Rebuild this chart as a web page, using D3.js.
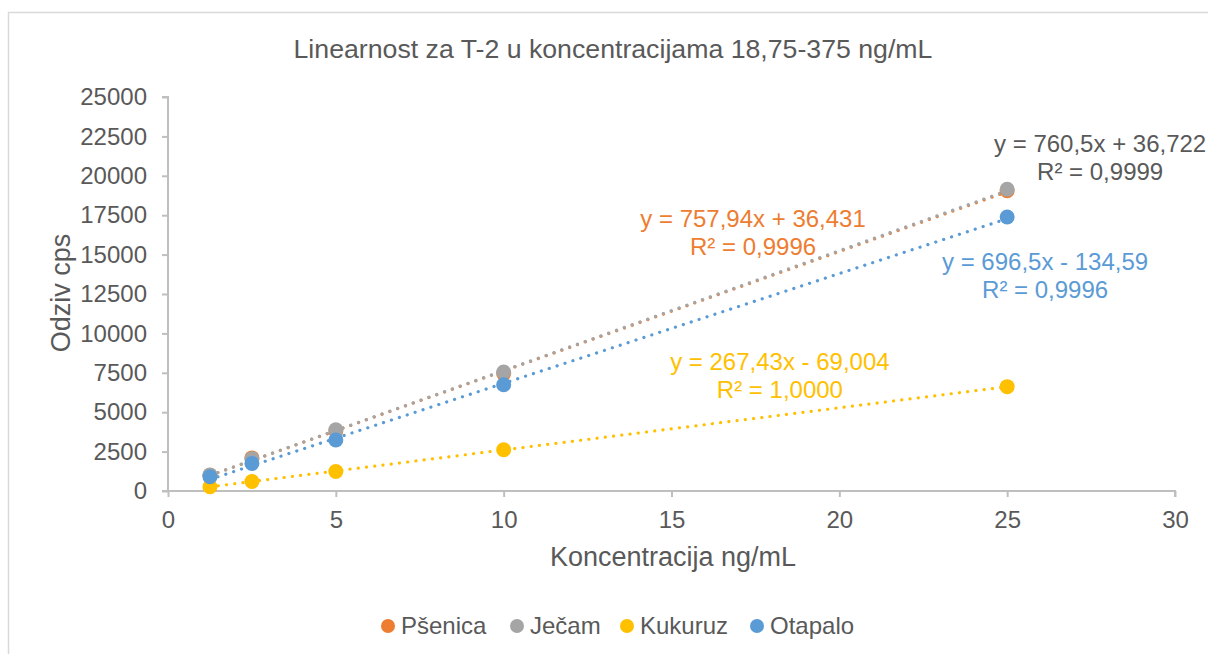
<!DOCTYPE html>
<html>
<head>
<meta charset="utf-8">
<script src="https://cdn.jsdelivr.net/npm/d3@7"></script>
<style>
  html, body { margin: 0; padding: 0; background: #fff; }
  svg { display: block; }
  text { font-family: "Liberation Sans", Arial, sans-serif; fill: #595959; }
</style>
</head>
<body>
<svg id="chart" width="1208" height="654"></svg>
<script>
// concentrations (ng/mL in the vial, x axis)
const conc = [1.25, 2.5, 5, 10, 25];

const seriesNames = ['Pšenica', 'Ječam', 'Kukuruz', 'Otapalo'];
const seriesColors = ['#ED7D31', '#A5A5A5', '#FFC000', '#5B9BD5'];

// responses
const psenica = [1000, 2100, 3800, 7450, 19050];
const jecam = [1020, 2050, 3880, 7550, 19150];
const kukuruz = [270, 600, 1240, 2620, 6620];
const otapalo = [900, 1750, 3240, 6740, 17390];
const responses = [psenica, jecam, kukuruz, otapalo];

// trendline coefficients as printed on the chart
const slopes = [757.94, 760.5, 267.43, 696.5];
const intercepts = [36.431, 36.722, -69.004, -134.59];
const eqLines = [
  ['y = 757,94x + 36,431', 'R² = 0,9996'],
  ['y = 760,5x + 36,722', 'R² = 0,9999'],
  ['y = 267,43x - 69,004', 'R² = 1,0000'],
  ['y = 696,5x - 134,59', 'R² = 0,9996']
];
// label anchor in data units (centre of first line baseline)
const eqAnchor = [[17.43, 16750], [27.77, 21500], [18.23, 7680], [26.13, 14020]];

const xTicks = [0, 5, 10, 15, 20, 25, 30];
const yTicks = d3.range(0, 25001, 2500);

const svg = d3.select('#chart');
const axisColor = '#BFBFBF';

// outer chart border
svg.append('rect')
  .attr('x', 8.5).attr('y', 12.5)
  .attr('width', 1220).attr('height', 660)
  .attr('fill', 'none')
  .attr('stroke', '#D9D9D9')
  .attr('stroke-width', 1.5);

const x = d3.scaleLinear().domain([0, 30]).range([168, 1175]);
const y = d3.scaleLinear().domain([0, 25000]).range([491, 97]);

svg.append('text')
  .attr('x', 613).attr('y', 58)
  .attr('text-anchor', 'middle')
  .style('font-size', '26.7px')
  .text('Linearnost za T-2 u koncentracijama 18,75-375 ng/mL');

// axes
const yAxis = svg.append('g')
  .attr('transform', `translate(${x(0)},0)`)
  .call(d3.axisLeft(y).tickValues(yTicks).tickSize(6).tickPadding(15).tickFormat(d3.format('d')));
const xAxis = svg.append('g')
  .attr('transform', `translate(0,${y(0)})`)
  .call(d3.axisBottom(x).tickValues(xTicks).tickSize(6).tickPadding(14).tickFormat(d3.format('d')));

[xAxis, yAxis].forEach(g => {
  g.select('.domain').attr('stroke', axisColor).attr('stroke-width', 2);
  g.selectAll('.tick line').attr('stroke', axisColor).attr('stroke-width', 2);
  g.selectAll('.tick text')
    .style('font-family', '"Liberation Sans", Arial, sans-serif')
    .style('font-size', '24px')
    .attr('fill', '#595959');
});
yAxis.select('.domain').attr('d', `M-6,${y(25000)}H0V${y(0)}H-6`);
xAxis.select('.domain').attr('d', `M${x(0) - 6},0H${x(30)}V6`);

// axis titles
svg.append('text')
  .attr('x', 673).attr('y', 566)
  .attr('text-anchor', 'middle')
  .style('font-size', '27px')
  .text('Koncentracija ng/mL');
svg.append('text')
  .attr('transform', `translate(70,${(y(0) + y(25000)) / 2 - 1}) rotate(-90)`)
  .attr('text-anchor', 'middle')
  .style('font-size', '27px')
  .text('Odziv cps');

// trendlines
const plot = svg.append('g');
const line = d3.line().x(d => x(d[0])).y(d => y(d[1]));
seriesNames.forEach((name, i) => {
  const ends = [conc[0], conc[conc.length - 1]].map(c => [c, slopes[i] * c + intercepts[i]]);
  plot.append('path')
    .attr('d', line(ends))
    .attr('fill', 'none')
    .attr('stroke', seriesColors[i])
    .attr('stroke-width', 3.2)
    .attr('stroke-linecap', 'round')
    .attr('stroke-dasharray', '0.1,8.2');
});

// markers
seriesNames.forEach((name, i) => {
  plot.selectAll(`circle.s${i}`)
    .data(conc.map((c, k) => [c, responses[i][k]]))
    .enter()
    .append('circle')
    .attr('class', `s${i}`)
    .attr('cx', d => x(d[0]))
    .attr('cy', d => y(d[1]))
    .attr('r', 7.5)
    .attr('fill', seriesColors[i]);
});

// trendline equations
const eqColors = ['#ED7D31', '#595959', '#FFC000', '#5B9BD5'];
seriesNames.forEach((name, i) => {
  const t = svg.append('text')
    .attr('text-anchor', 'middle')
    .style('font-size', '24px')
    .style('fill', eqColors[i]);
  eqLines[i].forEach((s, k) => {
    t.append('tspan')
      .attr('x', x(eqAnchor[i][0]))
      .attr('y', y(eqAnchor[i][1]) + k * 28)
      .text(s);
  });
});

// legend
const legendX = [388, 517, 627, 757];
const legend = svg.append('g');
seriesNames.forEach((name, i) => {
  legend.append('circle')
    .attr('cx', legendX[i]).attr('cy', 626)
    .attr('r', 7).attr('fill', seriesColors[i]);
  legend.append('text')
    .attr('x', legendX[i] + 13).attr('y', 634)
    .style('font-size', '24px')
    .text(name);
});
</script>
</body>
</html>
